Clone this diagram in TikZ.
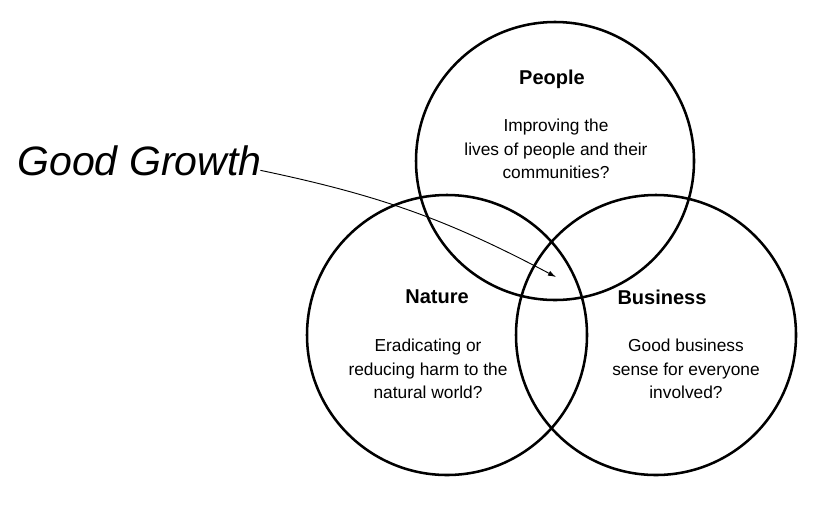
\documentclass[tikz,border=0pt]{standalone}
\usepackage{fontspec}
\setmainfont{Liberation Sans}
\usetikzlibrary{arrows.meta}
\begin{document}
\begin{tikzpicture}[x=0.75pt,y=-0.75pt]
	% Styles (MODIFIABLES)
	\tikzstyle{cercle}=[draw,circle,line width=1.9pt,inner sep=0pt]
	\tikzstyle{titre}=[font=\fontsize{15}{18}\selectfont\bfseries]
	\tikzstyle{texte}=[align=center,font=\fontsize{13}{17.6}\selectfont]
	\tikzstyle{grand}=[inner sep=0pt,font=\fontsize{30.8}{36}\selectfont\itshape]
	\tikzstyle{fleche}=[-{Latex[length=6pt,width=4pt]},line width=0.7pt]
	% Dimensions (MODIFIABLES)
	\def\DiametreP{208.5pt}
	\def\DiametreNB{210pt}
	% Cadre
	\useasboundingbox (0,0) rectangle (823,504);
	% Cercles
	\node[cercle,minimum size=\DiametreP] (P) at (555,161) {};
	\node[cercle,minimum size=\DiametreNB] (N) at (447,335) {};
	\node[cercle,minimum size=\DiametreNB] (B) at (656,335) {};
	% Textes
	\node[titre] (Pt) at (552,79) {People};
	\node[texte] (Pc) at (556,149) {Improving the\\lives of people and their\\communities?};
	\node[titre] (Nt) at (437,297) {Nature};
	\node[texte] (Nc) at (428,369) {Eradicating or\\reducing harm to the\\natural world?};
	\node[titre] (Bt) at (662,297) {Business};
	\node[texte] (Bc) at (686,369) {Good business\\sense for everyone\\involved?};
	\node[grand,anchor=base west] (GG) at (17,175) {Good Growth};
	% Fleche
	\coordinate (cible) at (556,277);
	\draw[fleche] ([xshift=-1pt,yshift=3.5pt]GG.base east) to[bend left=8] (cible);
\end{tikzpicture}
\end{document}
